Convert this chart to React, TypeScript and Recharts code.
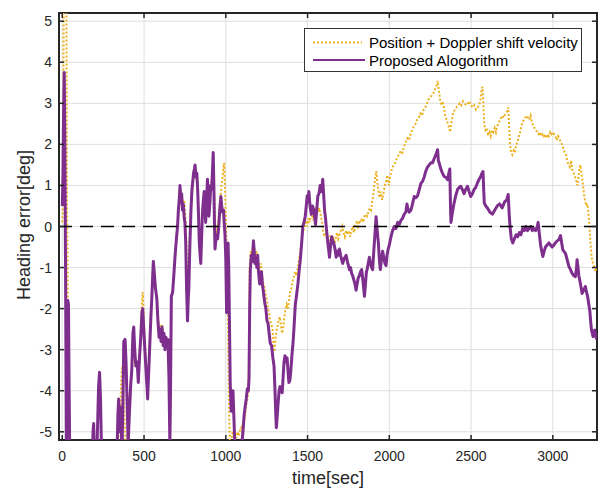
import { CartesianGrid, Legend, Line, LineChart, ReferenceArea, ReferenceLine, XAxis, YAxis } from 'recharts';

const timeTicks = [0, 500, 1000, 1500, 2000, 2500, 3000];
const headingTicks = [-5, -4, -3, -2, -1, 0, 1, 2, 3, 4, 5];
const seriesNames = ['Position + Doppler shift velocity', 'Proposed Alogorithm'];

// [time sec, heading error deg]
const dopplerSamples: [number, number][] = [
    [0, 0.1], [3, 0.4], [6, 2.5], [9, 5.5], [14, 6.5], [22, 6.5], [26, 5.0], [29, 0.5], [32, -0.5], [36, -3.0], [40, -5.5], [48, -6.5],
    [330, -6.5], [345, -5.0], [355, -4.5], [360, -3.8], [364, -3.5], [368, -3.4], [374, -4.0], [380, -4.6], [388, -5.3], [396, -5.4],
    [402, -5.0], [408, -4.3], [415, -3.9], [422, -3.6], [430, -3.3], [437, -2.9], [444, -3.2], [452, -3.4], [460, -3.3], [467, -3.6],
    [474, -3.0], [480, -2.45], [486, -1.9], [492, -1.6], [497, -2.0], [503, -2.6], [510, -3.2], [518, -3.6], [524, -3.8], [530, -3.3],
    [537, -2.7], [545, -1.9], [552, -1.2], [557, -0.85], [563, -1.1], [570, -1.5], [578, -1.7], [585, -2.2], [592, -2.5], [600, -2.4],
    [606, -2.6], [612, -2.4], [620, -2.7], [628, -2.85], [636, -2.9], [643, -2.8], [650, -3.1], [656, -4.5], [660, -5.0], [664, -3.5],
    [668, -1.7], [676, -1.55], [684, -1.1], [692, -0.6], [700, -0.2], [708, 0.2], [714, 0.6], [720, 0.9], [728, 0.85], [736, 0.6],
    [745, 0.65], [752, 0.3], [758, -0.2], [764, -1.3], [770, -1.4], [778, -0.6], [786, 0.3], [793, 0.8], [800, 1.1], [808, 1.3],
    [814, 1.4], [820, 1.25], [828, 0.9], [834, 0.4], [840, -0.2], [846, -0.6], [852, -0.2], [858, 0.35], [866, 0.8], [872, 0.5],
    [878, 0.2], [885, 0.8], [890, 1.0], [897, 0.4], [904, 0.7], [910, 1.05], [918, 1.2], [924, 1.5], [930, 0.7], [936, 0.0],
    [942, -0.2], [950, 0.0], [958, 0.3], [965, 0.6], [972, 0.9], [980, 1.2], [986, 1.45], [990, 1.55], [995, 1.0], [1000, 0.3],
    [1005, -0.5], [1010, -1.5], [1015, -3.0], [1020, -4.5], [1026, -5.4], [1034, -5.2], [1042, -5.0], [1050, -5.1], [1058, -5.0],
    [1065, -5.15], [1072, -5.0], [1080, -5.1], [1088, -4.95], [1095, -4.9], [1102, -5.05], [1110, -4.8], [1118, -4.6], [1125, -4.35],
    [1132, -4.2], [1138, -4.0], [1142, -3.0], [1146, -1.0], [1152, -0.6], [1158, -0.9], [1164, -0.5], [1170, -0.4], [1176, -0.6],
    [1182, -0.7], [1188, -0.65], [1195, -0.8], [1202, -1.0], [1208, -1.0], [1215, -0.9], [1222, -1.2], [1230, -1.4], [1238, -1.5],
    [1245, -1.7], [1252, -1.8], [1258, -2.0], [1265, -2.1], [1272, -2.3], [1280, -2.4], [1286, -2.5], [1292, -2.9], [1297, -3.05],
    [1302, -2.8], [1308, -2.6], [1315, -2.45], [1322, -2.3], [1330, -2.2], [1337, -2.4], [1344, -2.6], [1350, -2.5], [1358, -2.2],
    [1365, -2.0], [1372, -1.9], [1380, -2.0], [1387, -1.8], [1395, -1.55], [1402, -1.5], [1410, -1.3], [1418, -1.2], [1425, -1.1],
    [1432, -1.2], [1440, -1.0], [1448, -0.8], [1456, -0.6], [1462, -0.4], [1468, -0.2], [1475, -0.1], [1482, 0.0], [1490, 0.1],
    [1498, 0.0], [1505, 0.2], [1512, 0.1], [1520, 0.25], [1528, 0.3], [1535, 0.15], [1542, 0.25], [1550, 0.4], [1558, 0.5],
    [1565, 0.35], [1572, 0.45], [1580, 0.3], [1588, 0.1], [1595, -0.1], [1602, -0.2], [1610, -0.15], [1618, -0.3], [1626, -0.4],
    [1634, -0.3], [1642, -0.2], [1650, -0.35], [1658, -0.25], [1665, -0.4], [1672, -0.3], [1680, -0.15], [1688, -0.3], [1696, -0.2],
    [1704, -0.1], [1712, 0.0], [1720, -0.15], [1728, -0.25], [1736, -0.1], [1744, -0.2], [1752, -0.1], [1760, -0.25], [1768, -0.1],
    [1776, 0.0], [1784, -0.15], [1792, 0.05], [1800, 0.1], [1808, 0.0], [1816, 0.15], [1824, 0.1], [1832, 0.2], [1840, 0.1],
    [1848, 0.25], [1856, 0.3], [1864, 0.25], [1872, 0.35], [1880, 0.45], [1888, 0.4], [1895, 0.6], [1902, 0.75], [1908, 1.0],
    [1914, 1.2], [1920, 1.35], [1926, 1.1], [1932, 0.9], [1940, 0.7], [1948, 0.85], [1956, 0.65], [1964, 0.8], [1972, 1.0],
    [1980, 1.1], [1988, 1.25], [1996, 1.0], [2004, 1.2], [2012, 1.35], [2020, 1.45], [2030, 1.5], [2040, 1.6], [2050, 1.7],
    [2060, 1.75], [2070, 1.85], [2080, 1.8], [2090, 1.95], [2100, 2.05], [2110, 2.15], [2120, 2.1], [2130, 2.25], [2140, 2.35],
    [2150, 2.45], [2160, 2.5], [2170, 2.6], [2180, 2.65], [2190, 2.75], [2200, 2.7], [2210, 2.85], [2220, 2.9], [2230, 3.0],
    [2240, 3.1], [2250, 3.15], [2260, 3.2], [2270, 3.25], [2280, 3.35], [2290, 3.45], [2296, 3.55], [2302, 3.35], [2310, 3.1],
    [2318, 2.95], [2326, 3.05], [2334, 2.9], [2342, 2.7], [2350, 2.6], [2358, 2.5], [2366, 2.4], [2372, 2.3], [2380, 2.55],
    [2390, 2.75], [2400, 2.85], [2410, 2.9], [2420, 2.95], [2430, 3.0], [2440, 2.95], [2450, 3.05], [2460, 3.0], [2470, 2.95],
    [2480, 3.0], [2490, 3.05], [2500, 2.95], [2510, 2.9], [2520, 2.95], [2530, 2.85], [2540, 2.9], [2550, 2.95], [2558, 3.1],
    [2565, 3.35], [2570, 3.4], [2575, 3.0], [2580, 2.5], [2588, 2.35], [2596, 2.4], [2604, 2.25], [2612, 2.3], [2620, 2.2],
    [2628, 2.35], [2636, 2.3], [2644, 2.4], [2652, 2.3], [2660, 2.45], [2668, 2.5], [2676, 2.6], [2684, 2.65], [2692, 2.7],
    [2700, 2.65], [2710, 2.75], [2720, 2.8], [2727, 2.9], [2732, 2.5], [2738, 2.0], [2745, 1.8], [2752, 1.75], [2760, 1.85],
    [2768, 1.8], [2776, 2.0], [2784, 2.05], [2792, 2.2], [2800, 2.3], [2808, 2.45], [2816, 2.55], [2824, 2.6], [2832, 2.65],
    [2840, 2.7], [2848, 2.65], [2856, 2.6], [2864, 2.7], [2872, 2.55], [2880, 2.45], [2888, 2.4], [2896, 2.35], [2904, 2.3],
    [2912, 2.25], [2920, 2.3], [2928, 2.2], [2936, 2.25], [2944, 2.2], [2952, 2.25], [2960, 2.15], [2968, 2.25], [2976, 2.2],
    [2984, 2.3], [2992, 2.25], [3000, 2.3], [3008, 2.25], [3016, 2.2], [3024, 2.1], [3032, 2.2], [3040, 2.15], [3048, 2.05],
    [3056, 2.0], [3064, 1.9], [3072, 1.8], [3080, 1.75], [3088, 1.6], [3096, 1.5], [3104, 1.45], [3112, 1.6], [3120, 1.35],
    [3128, 1.3], [3136, 1.2], [3144, 1.1], [3150, 1.0], [3156, 1.2], [3162, 1.4], [3168, 1.5], [3175, 1.3], [3182, 1.1],
    [3190, 0.8], [3198, 0.6], [3205, 0.5], [3212, 0.55], [3218, 0.3], [3224, 0.0], [3230, -0.4], [3236, -0.7], [3242, -0.85],
    [3250, -0.95], [3258, -1.05], [3265, -1.1], [3270, -1.0],
];

const proposedSamples: [number, number][] = [
    [0, 0.5], [4, 1.2], [8, 2.8], [12, 3.75], [16, 2.0], [20, -1.0], [25, -5.5], [30, -4.0], [34, -1.8], [38, -1.9], [42, -4.0],
    [46, -5.6], [52, -6.5],
    [180, -6.5], [188, -5.0], [192, -4.8], [196, -5.5], [205, -6.5], [215, -5.0], [222, -3.9], [228, -3.55], [234, -4.2],
    [240, -5.5], [250, -6.5],
    [330, -6.5], [340, -4.6], [345, -4.2], [352, -5.0], [358, -4.4], [365, -5.6], [372, -4.0], [376, -2.8], [384, -2.75],
    [390, -3.3], [398, -4.5], [403, -5.3], [410, -4.6], [418, -3.9], [425, -3.5], [432, -2.6], [437, -2.45], [443, -3.0],
    [450, -3.4], [458, -3.3], [465, -3.8], [472, -3.2], [480, -2.7], [487, -2.1], [492, -2.0], [497, -2.4], [505, -3.0],
    [512, -3.5], [518, -3.9], [522, -4.2], [528, -3.6], [535, -2.9], [542, -2.2], [548, -1.7], [553, -1.2], [557, -0.85],
    [562, -1.1], [570, -1.5], [578, -1.75], [585, -2.3], [592, -2.7], [598, -2.5], [604, -2.8], [610, -2.45], [617, -2.9],
    [622, -2.6], [628, -3.0], [634, -2.7], [640, -2.9], [646, -2.75], [652, -3.6], [658, -5.3], [662, -4.0], [667, -1.7],
    [675, -1.6], [682, -1.2], [690, -0.7], [698, -0.3], [705, 0.0], [710, 0.4], [716, 0.7], [720, 1.0], [725, 0.6], [730, 0.8],
    [735, 0.4], [740, 0.55], [746, 0.2], [750, 0.1], [755, -0.4], [760, -1.5], [766, -2.3], [770, -1.8], [774, -1.5],
    [780, -0.5], [787, 0.4], [793, 0.9], [798, 1.1], [803, 1.3], [808, 1.4], [812, 1.5], [818, 1.2], [823, 1.3], [828, 0.9],
    [833, 0.3], [838, -0.4], [843, -0.7], [847, -0.9], [852, -0.3], [857, 0.3], [862, 0.6], [868, 0.85], [872, 0.5], [877, 0.1],
    [882, 0.6], [888, 1.15], [893, 0.7], [897, 0.25], [903, 0.6], [908, 1.0], [913, 0.9], [918, 1.3], [923, 1.8], [927, 1.0],
    [931, 0.0], [934, -0.55], [940, -0.3], [945, -0.2], [950, -0.3], [957, 0.0], [963, 0.4], [970, 0.73], [975, 0.5],
    [980, 0.35], [986, 0.4], [990, 0.1], [995, -0.2], [1000, -0.8], [1005, -2.1], [1010, -1.2], [1014, -0.4], [1018, -1.0],
    [1022, -2.2], [1027, -3.8], [1033, -4.5], [1038, -4.3], [1044, -4.0], [1050, -4.7], [1055, -5.3], [1062, -6.5],
    [1090, -6.5], [1098, -5.3], [1105, -5.0], [1112, -4.6], [1118, -4.4], [1125, -4.2], [1132, -3.95], [1138, -4.0],
    [1142, -3.7], [1146, -2.0], [1150, -1.05], [1156, -0.7], [1162, -0.85], [1169, -0.35], [1174, -0.6], [1178, -0.9],
    [1184, -0.8], [1190, -1.0], [1195, -0.7], [1200, -1.1], [1207, -1.4], [1213, -1.2], [1218, -1.1], [1224, -1.4],
    [1230, -1.6], [1238, -1.85], [1245, -2.0], [1252, -2.3], [1258, -2.35], [1265, -2.6], [1272, -2.85], [1280, -2.9],
    [1288, -3.2], [1295, -3.4], [1300, -3.9], [1305, -4.5], [1309, -4.9], [1315, -4.6], [1320, -4.3], [1326, -4.0],
    [1332, -3.9], [1338, -4.0], [1345, -4.05], [1350, -3.7], [1356, -3.3], [1362, -3.15], [1368, -3.3], [1375, -3.2],
    [1380, -3.5], [1386, -3.8], [1392, -3.75], [1398, -3.5], [1405, -3.1], [1411, -2.85], [1418, -2.4], [1425, -1.9],
    [1432, -1.7], [1441, -1.4], [1448, -1.1], [1457, -0.75], [1464, -0.4], [1471, 0.0], [1478, 0.1], [1486, 0.25], [1492, 0.5],
    [1498, 0.75], [1503, 0.6], [1508, 0.85], [1515, 0.5], [1523, 0.3], [1530, 0.5], [1539, 0.4], [1544, 0.2], [1549, 0.05],
    [1556, 0.4], [1563, 0.75], [1570, 0.8], [1577, 1.0], [1585, 0.85], [1593, 1.15], [1598, 0.8], [1604, 0.4], [1610, 0.2],
    [1614, 0.0], [1619, -0.2], [1624, -0.4], [1630, -0.6], [1634, -0.75], [1640, -0.5], [1648, -0.25], [1654, -0.35],
    [1660, -0.4], [1668, -0.55], [1675, -0.75], [1682, -0.6], [1688, -0.7], [1695, -0.55], [1702, -0.7], [1708, -0.8],
    [1715, -0.9], [1722, -0.8], [1729, -0.75], [1736, -0.7], [1743, -0.85], [1750, -0.95], [1756, -1.05], [1763, -1.0],
    [1770, -1.15], [1776, -1.2], [1783, -1.3], [1790, -1.4], [1797, -1.55], [1803, -1.4], [1810, -1.25], [1817, -1.2],
    [1824, -1.1], [1831, -1.05], [1838, -1.3], [1843, -1.5], [1848, -1.7], [1855, -1.35], [1860, -1.1], [1864, -1.05],
    [1871, -0.9], [1878, -0.75], [1885, -0.9], [1892, -1.0], [1898, -1.05], [1905, -0.6], [1912, -0.2], [1919, 0.24],
    [1926, -0.1], [1933, -0.4], [1939, -0.8], [1945, -1.05], [1952, -0.8], [1959, -0.6], [1966, -0.75], [1973, -0.9],
    [1980, -0.95], [1986, -0.7], [1993, -0.55], [2000, -0.45], [2010, -0.25], [2020, -0.1], [2030, 0.0], [2040, -0.05],
    [2051, 0.1], [2061, 0.05], [2071, 0.15], [2081, 0.2], [2091, 0.3], [2101, 0.35], [2108, 0.55], [2112, 0.45], [2122, 0.35],
    [2132, 0.4], [2142, 0.55], [2152, 0.73], [2162, 0.7], [2173, 0.75], [2183, 0.9], [2193, 1.05], [2203, 1.1], [2213, 1.2],
    [2223, 1.35], [2234, 1.45], [2244, 1.5], [2254, 1.55], [2264, 1.55], [2274, 1.65], [2285, 1.75], [2295, 1.87], [2300, 1.6],
    [2305, 1.55], [2315, 1.4], [2325, 1.3], [2335, 1.22], [2345, 1.2], [2356, 1.14], [2364, 1.3], [2370, 1.4], [2374, 0.5],
    [2377, 0.1], [2386, 0.35], [2396, 0.57], [2406, 0.75], [2417, 0.9], [2427, 0.95], [2437, 0.98], [2447, 0.9], [2457, 0.8],
    [2467, 0.9], [2478, 0.98], [2488, 0.85], [2498, 0.73], [2508, 0.8], [2518, 0.9], [2528, 0.95], [2539, 1.06], [2549, 1.15],
    [2559, 1.22], [2567, 1.3], [2573, 1.34], [2577, 0.9], [2581, 0.57], [2590, 0.5], [2600, 0.45], [2615, 0.35], [2630, 0.3],
    [2645, 0.4], [2660, 0.5], [2675, 0.55], [2690, 0.45], [2705, 0.6], [2718, 0.65], [2727, 0.78], [2733, 0.3], [2738, 0.0],
    [2746, -0.3], [2755, -0.4], [2765, -0.3], [2775, -0.2], [2785, -0.25], [2795, -0.15], [2805, -0.2], [2815, -0.05],
    [2825, -0.1], [2835, 0.0], [2845, -0.1], [2855, -0.05], [2865, 0.0], [2875, -0.1], [2885, -0.05], [2895, -0.1], [2905, 0.0],
    [2910, 0.1], [2918, -0.2], [2925, -0.45], [2932, -0.6], [2939, -0.73], [2947, -0.6], [2955, -0.5], [2965, -0.45],
    [2976, -0.4], [2986, -0.45], [2996, -0.5], [3006, -0.45], [3016, -0.4], [3026, -0.35], [3037, -0.32], [3047, -0.22],
    [3054, -0.4], [3061, -0.57], [3070, -0.62], [3077, -0.65], [3087, -0.8], [3098, -0.97], [3108, -1.05], [3118, -1.14],
    [3128, -1.2], [3138, -1.22], [3145, -1.0], [3148, -0.81], [3154, -1.0], [3159, -1.2], [3169, -1.4], [3179, -1.63],
    [3189, -1.55], [3199, -1.46], [3206, -1.6], [3213, -1.71], [3220, -1.9], [3226, -2.05], [3231, -2.3], [3236, -2.52],
    [3241, -2.6], [3246, -2.68], [3251, -2.55], [3256, -2.52], [3262, -2.65], [3268, -2.75],
];

const dopplerData = dopplerSamples.map(([t, v]) => ({ t, v }));
const proposedData = proposedSamples.map(([t, v]) => ({ t, v }));

const ORANGE = '#EDB120';
const PURPLE = '#7E2F8E';
const INK = '#262626';
const FONT = '"Liberation Sans", Arial, Helvetica, sans-serif';
const PLOT_TOP = 13;
const PLOT_BOTTOM = 440;
const PLOT_LEFT = 59;
const PLOT_RIGHT = 597;

function TimeTick({ x, payload }: any) {
    return (
        <g>
            <line x1={x} x2={x} y1={PLOT_BOTTOM} y2={PLOT_BOTTOM - 5} stroke={INK} strokeWidth={1.5} />
            <line x1={x} x2={x} y1={PLOT_TOP} y2={PLOT_TOP + 5} stroke={INK} strokeWidth={1.5} />
            <text x={x} y={461} textAnchor="middle" fontSize={14} fontFamily={FONT} fill={INK}>
                {payload.value}
            </text>
        </g>
    );
}

function HeadingTick({ y, payload }: any) {
    return (
        <g>
            <line x1={PLOT_LEFT} x2={PLOT_LEFT + 5} y1={y} y2={y} stroke={INK} strokeWidth={1.5} />
            <line x1={PLOT_RIGHT} x2={PLOT_RIGHT - 5} y1={y} y2={y} stroke={INK} strokeWidth={1.5} />
            <text x={52} y={y + 5} textAnchor="end" fontSize={14} fontFamily={FONT} fill={INK}>
                {payload.value}
            </text>
        </g>
    );
}

function LegendBox() {
    return (
        <svg width={279} height={45} style={{ display: 'block' }}>
            <rect x={0.5} y={0.5} width={277} height={43} fill="#fff" stroke="#333" strokeWidth={1} />
            <line x1={9} x2={58} y1={14.5} y2={14.5} stroke={ORANGE} strokeWidth={2} strokeDasharray="2 2" />
            <text x={65} y={19.5} fontSize={15} fontFamily={FONT} fill="#000">{seriesNames[0]}</text>
            <line x1={9} x2={61} y1={32} y2={32} stroke={PURPLE} strokeWidth={2} />
            <text x={65} y={37.5} fontSize={15} fontFamily={FONT} fill="#000">{seriesNames[1]}</text>
        </svg>
    );
}

export default function App() {
    return (
        <div style={{ position: 'absolute', left: 0, top: 0, width: 600, height: 489, background: '#fff' }}>
            <LineChart width={600} height={489} margin={{ top: PLOT_TOP, right: 3, bottom: 0, left: 0 }}>
                <CartesianGrid stroke="#dedede" strokeWidth={1} />
                <XAxis
                    dataKey="t"
                    type="number"
                    domain={[-20, 3270]}
                    ticks={timeTicks}
                    interval={0}
                    allowDataOverflow
                    axisLine={false}
                    tickLine={false}
                    tick={TimeTick}
                    height={49}
                    label={() => (
                        <text x={328} y={484} textAnchor="middle" fontSize={18} fontFamily={FONT} fill={INK}>
                            time[sec]
                        </text>
                    )}
                />
                <YAxis
                    type="number"
                    domain={[-5.2, 5.2]}
                    ticks={headingTicks}
                    interval={0}
                    allowDataOverflow
                    axisLine={false}
                    tickLine={false}
                    tick={HeadingTick}
                    width={59}
                    label={() => (
                        <text
                            transform="translate(30,225) rotate(-90)"
                            textAnchor="middle"
                            fontSize={18}
                            fontFamily={FONT}
                            fill={INK}
                        >
                            Heading error[deg]
                        </text>
                    )}
                />
                <Line
                    data={dopplerData}
                    dataKey="v"
                    name={seriesNames[0]}
                    type="linear"
                    stroke={ORANGE}
                    strokeWidth={2}
                    strokeDasharray="2 2"
                    dot={false}
                    activeDot={false}
                    isAnimationActive={false}
                />
                <Line
                    data={proposedData}
                    dataKey="v"
                    name={seriesNames[1]}
                    type="linear"
                    stroke={PURPLE}
                    strokeWidth={3}
                    strokeLinejoin="round"
                    dot={false}
                    activeDot={false}
                    isAnimationActive={false}
                />
                <ReferenceLine y={0} stroke="#000" strokeWidth={1.3} strokeDasharray="13 8" />
                <ReferenceArea x1={-20} x2={3270} y1={-5.2} y2={5.2} fill="none" stroke={INK} strokeWidth={2} />
                <Legend
                    layout="horizontal"
                    verticalAlign="middle"
                    align="center"
                    wrapperStyle={{ position: 'absolute', left: 304, top: 28, width: 279, height: 45 }}
                    content={() => <LegendBox />}
                />
            </LineChart>
        </div>
    );
}
